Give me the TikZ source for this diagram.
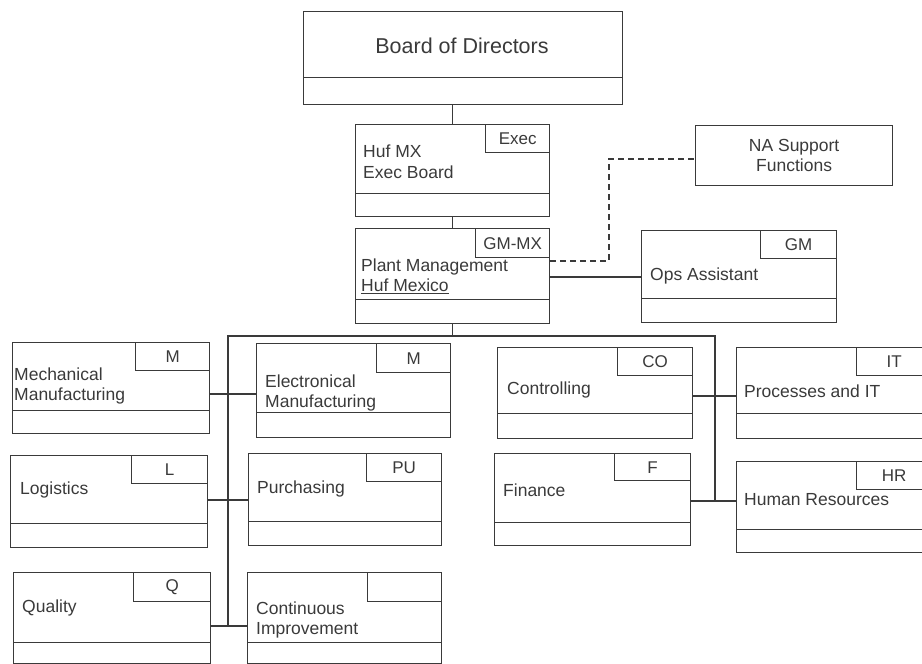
\documentclass[tikz,border=0pt]{standalone}
\usepackage{fontspec}
\setmainfont{Liberation Sans}
\definecolor{ink}{HTML}{3A3A3A}

\begin{document}
\begin{tikzpicture}[x=1pt,y=-1pt,
  box/.style={draw=ink,line width=1.3pt,anchor=north west,inner sep=0pt,minimum width=195pt,minimum height=92pt},
  tag/.style={draw=ink,line width=1.3pt,anchor=north east,inner sep=0pt,minimum width=75pt,minimum height=28pt,text=ink,font=\fontsize{17}{20}\selectfont},
  lbl/.style={anchor=west,align=left,inner sep=0pt,text=ink,font=\fontsize{17.5}{20.5}\selectfont},
  link/.style={draw=ink,line width=1.3pt},
  dashlink/.style={link,dash pattern=on 6pt off 4pt}]

\clip (0,0) rectangle (922,664);

% board and management
\node[box,minimum width=319pt,minimum height=93pt] (board) at (303,11) {};
\draw[link] ([yshift=28pt]board.south west) -- ([yshift=28pt]board.south east);
\node[text=ink,font=\fontsize{21.5}{24}\selectfont] (board-t) at (462,46) {Board of Directors};

\node[box,minimum width=194pt] (exec) at (355,124) {};
\draw[link] ([yshift=24pt]exec.south west) -- ([yshift=24pt]exec.south east);
\node[tag,minimum width=64pt] (exec-tag) at (exec.north east) {Exec};
\node[lbl] (exec-t) at (363,162) {Huf MX\\Exec Board};

\node[box,minimum width=197pt,minimum height=60pt] (nasup) at (695,125) {};
\node[align=center,text=ink,font=\fontsize{17.5}{20.5}\selectfont] (nasup-t) at (nasup.center) {NA Support\\Functions};

\node[box,minimum width=194pt,minimum height=95pt] (plant) at (355,228) {};
\draw[link] ([yshift=25pt]plant.south west) -- ([yshift=25pt]plant.south east);
\node[tag,minimum width=74pt,minimum height=29pt] (plant-tag) at (plant.north east) {GM-MX};
\node[lbl] (plant-t) at (361,276) {Plant Management\\\underline{Huf Mexico}};

\node[box] (ops) at (641,230) {};
\draw[link] ([yshift=25pt]ops.south west) -- ([yshift=25pt]ops.south east);
\node[tag,minimum width=76pt] (ops-tag) at (ops.north east) {GM};
\node[lbl] (ops-t) at (650,276) {Ops Assistant};

% left departments
\node[box,minimum width=197pt,minimum height=91pt] (mech) at (12,342) {};
\draw[link] ([yshift=24pt]mech.south west) -- ([yshift=24pt]mech.south east);
\node[tag,minimum width=74pt] (mech-tag) at (mech.north east) {M};
\node[lbl] (mech-t) at (14,386) {Mechanical\\Manufacturing};

\node[box,minimum width=194pt,minimum height=94pt] (elec) at (256,343) {};
\draw[link] ([yshift=26pt]elec.south west) -- ([yshift=26pt]elec.south east);
\node[tag,minimum width=74pt,minimum height=29pt] (elec-tag) at (elec.north east) {M};
\node[lbl] (elec-t) at (265,393) {Electronical\\Manufacturing};

\node[box,minimum width=197pt] (logi) at (10,455) {};
\draw[link] ([yshift=25pt]logi.south west) -- ([yshift=25pt]logi.south east);
\node[tag,minimum width=76pt] (logi-tag) at (logi.north east) {L};
\node[lbl] (logi-t) at (20,490) {Logistics};

\node[box,minimum width=193pt] (purch) at (248,453) {};
\draw[link] ([yshift=25pt]purch.south west) -- ([yshift=25pt]purch.south east);
\node[tag] (purch-tag) at (purch.north east) {PU};
\node[lbl] (purch-t) at (257,489) {Purchasing};

\node[box,minimum width=197pt,minimum height=91pt] (qual) at (13,572) {};
\draw[link] ([yshift=22pt]qual.south west) -- ([yshift=22pt]qual.south east);
\node[tag,minimum width=77pt,minimum height=29pt] (qual-tag) at (qual.north east) {Q};
\node[lbl] (qual-t) at (22,608) {Quality};

\node[box,minimum width=194pt,minimum height=91pt] (cont) at (247,572) {};
\draw[link] ([yshift=22pt]cont.south west) -- ([yshift=22pt]cont.south east);
\node[tag,minimum width=74pt,minimum height=29pt] (cont-tag) at (cont.north east) {};
\node[lbl] (cont-t) at (256,620) {Continuous\\Improvement};

% right departments
\node[box,minimum width=195pt,minimum height=91pt] (ctrl) at (497,347) {};
\draw[link] ([yshift=26pt]ctrl.south west) -- ([yshift=26pt]ctrl.south east);
\node[tag] (ctrl-tag) at (ctrl.north east) {CO};
\node[lbl] (ctrl-t) at (507,390) {Controlling};

\node[box,minimum width=195pt,minimum height=91pt] (proc) at (736,347) {};
\draw[link] ([yshift=26pt]proc.south west) -- ([yshift=26pt]proc.south east);
\node[tag] (proc-tag) at (proc.north east) {IT};
\node[lbl] (proc-t) at (744,391) {Processes and IT};

\node[box,minimum width=196pt] (fin) at (494,453) {};
\draw[link] ([yshift=24pt]fin.south west) -- ([yshift=24pt]fin.south east);
\node[tag,minimum width=76pt,minimum height=27pt] (fin-tag) at (fin.north east) {F};
\node[lbl] (fin-t) at (503,490) {Finance};

\node[box,minimum width=195pt,minimum height=91pt] (hr) at (736,461) {};
\draw[link] ([yshift=24pt]hr.south west) -- ([yshift=24pt]hr.south east);
\node[tag] (hr-tag) at (hr.north east) {HR};
\node[lbl] (hr-t) at (744,500) {Human Resources};

% connectors
\coordinate (bus) at (452,336);
\coordinate (ltop) at (228,336);
\coordinate (rtop) at (715,336);
\coordinate (l1) at (228,394);
\coordinate (l2) at (228,500);
\coordinate (l3) at (228,626);
\coordinate (r1) at (715,396);
\coordinate (r2) at (715,501);
\coordinate (na) at (609,159);

\draw[link] (exec.north) -- (exec.north |- board.south);
\draw[link] (exec.south) -- (plant.north);
\draw[link] (plant.south) -- (plant.south |- bus);
\draw[link] (l3) -- (ltop) -- (rtop) -- (r2);
\draw[link] (mech.east |- l1) -- (elec.west |- l1);
\draw[link] (logi.east |- l2) -- (purch.west |- l2);
\draw[link] (qual.east |- l3) -- (cont.west |- l3);
\draw[link] (ctrl.east |- r1) -- (proc.west |- r1);
\draw[link] (fin.east |- r2) -- (hr.west |- r2);
\draw[link] (plant.east |- 0,277) -- (ops.west |- 0,277);
\draw[dashlink] (plant.east |- 0,261) -- (na |- 0,261) -- (na) -- (nasup.west |- na);

\end{tikzpicture}
\end{document}
